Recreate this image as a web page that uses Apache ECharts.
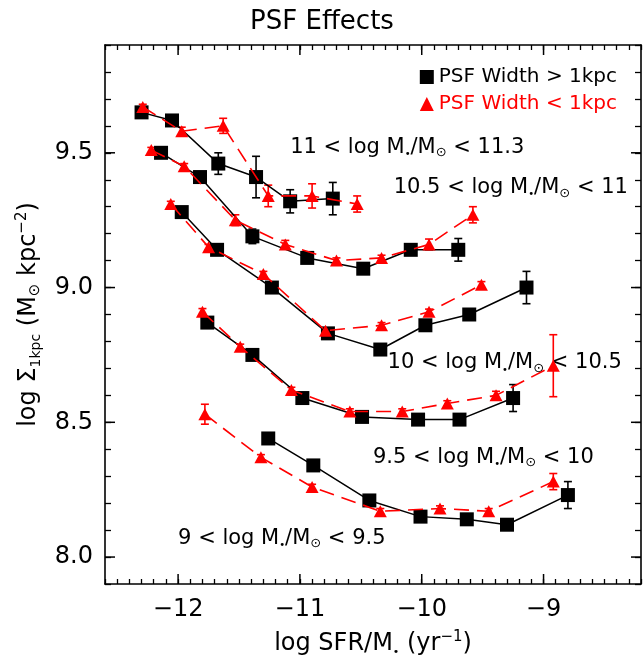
<!DOCTYPE html>
<html>
<head>
<meta charset="utf-8">
<script src="https://cdn.jsdelivr.net/npm/echarts@6/dist/echarts.min.js"></script>
<style>
  html, body { margin: 0; padding: 0; background: #fff; }
  #chart { width: 644px; height: 663px; }
</style>
</head>
<body>
<div id="chart"></div>
<script>
// Central stellar surface density vs specific SFR, split by stellar-mass bin.
// "wide" = PSF width > 1 kpc, "narrow" = PSF width < 1 kpc; err = symmetric 1-sigma.

// 11 < log M*/Msun < 11.3
const m11_wide_x   = [-12.30, -12.05, -11.67, -11.36, -11.08, -10.73];
const m11_wide_y   = [9.65, 9.62, 9.46, 9.41, 9.32, 9.33];
const m11_wide_err = [0.01, 0.01, 0.04, 0.077, 0.043, 0.06];
const m11_narrow_x   = [-12.29, -11.97, -11.63, -11.26, -10.90, -10.53];
const m11_narrow_y   = [9.67, 9.58, 9.60, 9.34, 9.34, 9.31];
const m11_narrow_err = [0.01, 0.015, 0.028, 0.04, 0.045, 0.03];

// 10.5 < log M*/Msun < 11
const m105_wide_x   = [-12.14, -11.82, -11.39, -10.94, -10.48, -10.09, -9.70];
const m105_wide_y   = [9.50, 9.41, 9.19, 9.11, 9.07, 9.14, 9.14];
const m105_wide_err = [0.01, 0.01, 0.027, 0.01, 0.01, 0.01, 0.042];
const m105_narrow_x   = [-12.22, -11.95, -11.53, -11.12, -10.70, -10.33, -9.94, -9.58];
const m105_narrow_y   = [9.51, 9.45, 9.25, 9.16, 9.10, 9.11, 9.16, 9.27];
const m105_narrow_err = [0.01, 0.01, 0.02, 0.015, 0.01, 0.01, 0.02, 0.03];

// 10 < log M*/Msun < 10.5
const m10_wide_x   = [-11.97, -11.68, -11.23, -10.77, -10.34, -9.97, -9.61, -9.14];
const m10_wide_y   = [9.28, 9.14, 9.00, 8.83, 8.77, 8.86, 8.90, 9.00];
const m10_wide_err = [0.01, 0.01, 0.01, 0.01, 0.01, 0.01, 0.015, 0.06];
const m10_narrow_x   = [-12.06, -11.75, -11.30, -10.79, -10.33, -9.94, -9.51];
const m10_narrow_y   = [9.31, 9.15, 9.05, 8.84, 8.86, 8.91, 9.01];
const m10_narrow_err = [0.01, 0.01, 0.01, 0.01, 0.01, 0.01, 0.012];

// 9.5 < log M*/Msun < 10
const m95_wide_x   = [-11.76, -11.39, -10.98, -10.49, -10.03, -9.69, -9.25];
const m95_wide_y   = [8.87, 8.75, 8.59, 8.52, 8.51, 8.51, 8.59];
const m95_wide_err = [0.01, 0.01, 0.01, 0.01, 0.01, 0.01, 0.05];
const m95_narrow_x   = [-11.80, -11.49, -11.07, -10.59, -10.16, -9.79, -9.39, -8.92];
const m95_narrow_y   = [8.91, 8.78, 8.62, 8.54, 8.54, 8.57, 8.60, 8.71];
const m95_narrow_err = [0.012, 0.01, 0.01, 0.01, 0.01, 0.01, 0.015, 0.115];

// 9 < log M*/Msun < 9.5
const m9_wide_x   = [-11.26, -10.89, -10.43, -10.01, -9.63, -9.30, -8.80];
const m9_wide_y   = [8.44, 8.34, 8.21, 8.15, 8.14, 8.12, 8.23];
const m9_wide_err = [0.01, 0.01, 0.01, 0.01, 0.01, 0.01, 0.05];
const m9_narrow_x   = [-11.78, -11.32, -10.90, -10.34, -9.85, -9.45, -8.92];
const m9_narrow_y   = [8.53, 8.37, 8.26, 8.17, 8.18, 8.17, 8.28];
const m9_narrow_err = [0.037, 0.01, 0.01, 0.01, 0.01, 0.01, 0.03];

// Bin labels and where they sit (data coordinates of their left edge)
const binLabels = [
  '{t|11 < log M}{s|•}{t|/M}{o|⊙}{t| < 11.3}',
  '{t|10.5 < log M}{s|•}{t|/M}{o|⊙}{t| < 11}',
  '{t|10 < log M}{s|•}{t|/M}{o|⊙}{t| < 10.5}',
  '{t|9.5 < log M}{s|•}{t|/M}{o|⊙}{t| < 10}',
  '{t|9 < log M}{s|•}{t|/M}{o|⊙}{t| < 9.5}'
];
const binLabelX = [-11.08, -10.23, -10.28, -10.40, -12.00];
const binLabelY = [9.52, 9.37, 8.72, 8.37, 8.07];

// Axis ranges and major tick values
const xRange = [-12.6, -8.2];
const yRange = [7.9, 9.9];
const xMajor = [-12, -11, -10, -9];
const yMajor = [8.0, 8.5, 9.0, 9.5];

const WIDE = 'PSF Width > 1kpc';
const NARROW = 'PSF Width < 1kpc';
const FONT = 'DejaVu Sans';
const RED = '#ff0000';

const series = [];

function errorBars(xs, ys, errs, color) {
  return {
    type: 'custom',
    silent: true,
    z: 3,
    encode: { x: 0, y: [1, 2] },
    data: xs.map((x, i) => [x, ys[i] - errs[i], ys[i] + errs[i]]),
    renderItem(params, api) {
      const lo = api.coord([api.value(0), api.value(1)]);
      const hi = api.coord([api.value(0), api.value(2)]);
      const c = 4;
      const st = { stroke: color, lineWidth: 1.6 };
      return {
        type: 'group',
        children: [
          { type: 'line', shape: { x1: lo[0], y1: lo[1], x2: hi[0], y2: hi[1] }, style: st },
          { type: 'line', shape: { x1: lo[0] - c, y1: lo[1], x2: lo[0] + c, y2: lo[1] }, style: st },
          { type: 'line', shape: { x1: hi[0] - c, y1: hi[1], x2: hi[0] + c, y2: hi[1] }, style: st }
        ]
      };
    }
  };
}

function addWide(xs, ys, errs) {
  series.push({
    name: WIDE, type: 'line', z: 4,
    data: xs.map((x, i) => [x, ys[i]]),
    symbol: 'rect', symbolSize: 14,
    itemStyle: { color: '#000' },
    lineStyle: { color: '#000', width: 1.5 }
  });
  series.push(errorBars(xs, ys, errs, '#000'));
}

function addNarrow(xs, ys, errs) {
  series.push({
    name: NARROW, type: 'line', z: 5,
    data: xs.map((x, i) => [x, ys[i]]),
    symbol: 'triangle', symbolSize: [13, 12],
    itemStyle: { color: RED },
    lineStyle: { color: RED, width: 1.6, type: [15, 8] }
  });
  series.push(errorBars(xs, ys, errs, RED));
}

addWide(m11_wide_x, m11_wide_y, m11_wide_err);
addNarrow(m11_narrow_x, m11_narrow_y, m11_narrow_err);
addWide(m105_wide_x, m105_wide_y, m105_wide_err);
addNarrow(m105_narrow_x, m105_narrow_y, m105_narrow_err);
addWide(m10_wide_x, m10_wide_y, m10_wide_err);
addNarrow(m10_narrow_x, m10_narrow_y, m10_narrow_err);
addWide(m95_wide_x, m95_wide_y, m95_wide_err);
addNarrow(m95_narrow_x, m95_narrow_y, m95_narrow_err);
addWide(m9_wide_x, m9_wide_y, m9_wide_err);
addNarrow(m9_narrow_x, m9_narrow_y, m9_narrow_err);

// Mass-bin labels
const labelRich = {
  t: { fontSize: 21, fontFamily: FONT, color: '#000', lineHeight: 24 },
  s: { fontSize: 10, fontFamily: FONT, color: '#000', verticalAlign: 'bottom', lineHeight: 12 },
  o: { fontSize: 13, fontFamily: FONT, color: '#000', verticalAlign: 'bottom', lineHeight: 13 }
};
series.push({
  type: 'scatter', silent: true, symbolSize: 0, z: 2,
  itemStyle: { color: '#000', opacity: 1 },
  data: binLabels.map((t, i) => [binLabelX[i], binLabelY[i], t]),
  label: {
    show: true, position: 'right', distance: 0,
    formatter: p => p.data[2],
    fontSize: 21, fontFamily: FONT, color: '#000', opacity: 1, lineHeight: 24,
    textBorderWidth: 0,
    rich: labelRich
  }
});

// Longer major ticks on all four sides of the frame
series.push({
  type: 'custom', silent: true, z: 6,
  data: xMajor.map(v => [v, yRange[0]]),
  encode: { x: 0, y: 1 },
  renderItem(params, api) {
    const p = api.coord([api.value(0), api.value(1)]);
    const cs = params.coordSys;
    const st = { stroke: '#000', lineWidth: 1.5 };
    return { type: 'group', children: [
      { type: 'line', shape: { x1: p[0], y1: cs.y + cs.height, x2: p[0], y2: cs.y + cs.height - 10 }, style: st },
      { type: 'line', shape: { x1: p[0], y1: cs.y, x2: p[0], y2: cs.y + 10 }, style: st }
    ]};
  }
});
series.push({
  type: 'custom', silent: true, z: 6,
  data: yMajor.map(v => [xRange[0], v]),
  encode: { x: 0, y: 1 },
  renderItem(params, api) {
    const p = api.coord([api.value(0), api.value(1)]);
    const cs = params.coordSys;
    const st = { stroke: '#000', lineWidth: 1.5 };
    return { type: 'group', children: [
      { type: 'line', shape: { x1: cs.x, y1: p[1], x2: cs.x + 10, y2: p[1] }, style: st },
      { type: 'line', shape: { x1: cs.x + cs.width, y1: p[1], x2: cs.x + cs.width - 10, y2: p[1] }, style: st }
    ]};
  }
});

const axisLine = { show: true, onZero: false, lineStyle: { color: '#000', width: 1.6 } };
const minorTick = { show: true, inside: true, length: 5, lineStyle: { color: '#000', width: 1.3 } };

function xLabel(v) {
  const r = Math.round(v);
  if (Math.abs(v - r) > 1e-6) return '';
  return (r < 0 ? '\u2212' : '') + Math.abs(r);
}
function yLabel(v) {
  if (Math.abs(v * 2 - Math.round(v * 2)) > 1e-6) return '';
  return v.toFixed(1);
}

const chart = echarts.init(document.getElementById('chart'), null, { renderer: 'canvas' });
chart.setOption({
  animation: false,
  backgroundColor: '#fff',
  title: {
    text: 'PSF Effects', left: 'center', top: 4,
    textStyle: { fontFamily: FONT, fontSize: 26, fontWeight: 'normal', color: '#000' }
  },
  legend: {
    orient: 'vertical', right: 22, top: 62,
    itemWidth: 14, itemHeight: 14, itemGap: 7,
    selectedMode: false,
    textStyle: { fontFamily: FONT, fontSize: 20, lineHeight: 20 },
    data: [
      { name: WIDE, icon: 'rect', textStyle: { color: '#000' } },
      { name: NARROW, icon: 'triangle', textStyle: { color: RED } }
    ]
  },
  grid: { left: 105, right: 1, top: 45, bottom: 79, containLabel: false },
  xAxis: [
    {
      type: 'value', position: 'bottom', min: xRange[0], max: xRange[1], interval: 0.1,
      axisLine, axisTick: minorTick, splitLine: { show: false },
      axisLabel: { formatter: xLabel, hideOverlap: false, fontFamily: FONT, fontSize: 24, color: '#000', margin: 14 },
      name: 'log SFR/M{s|•} (yr{p|\u22121})', nameLocation: 'middle', nameGap: 46,
      nameTextStyle: {
        fontFamily: FONT, fontSize: 24, color: '#000', lineHeight: 28,
        rich: {
          s: { fontSize: 11, fontFamily: FONT, color: '#000', verticalAlign: 'bottom', lineHeight: 16 },
          p: { fontSize: 15, fontFamily: FONT, color: '#000', verticalAlign: 'top', lineHeight: 15 }
        }
      }
    },
    {
      type: 'value', position: 'top', min: xRange[0], max: xRange[1], interval: 0.1,
      axisLine, axisTick: minorTick, splitLine: { show: false }, axisLabel: { show: false }
    }
  ],
  yAxis: [
    {
      type: 'value', position: 'left', min: yRange[0], max: yRange[1], interval: 0.1,
      axisLine, axisTick: { ...minorTick, length: 6 }, splitLine: { show: false },
      axisLabel: { formatter: yLabel, hideOverlap: false, fontFamily: FONT, fontSize: 24, color: '#000', margin: 12 },
      name: 'log \u03A3{b|1kpc} (M{o|⊙} kpc{p|\u22122})', nameLocation: 'middle', nameGap: 62, nameRotate: 90,
      nameTextStyle: {
        fontFamily: FONT, fontSize: 24, color: '#000', lineHeight: 28,
        rich: {
          b: { fontSize: 14, fontFamily: FONT, color: '#000', verticalAlign: 'bottom', lineHeight: 16 },
          o: { fontSize: 15, fontFamily: FONT, color: '#000', verticalAlign: 'bottom', lineHeight: 16 },
          p: { fontSize: 15, fontFamily: FONT, color: '#000', verticalAlign: 'top', lineHeight: 15 }
        }
      }
    },
    {
      type: 'value', position: 'right', min: yRange[0], max: yRange[1], interval: 0.1,
      axisLine, axisTick: { ...minorTick, length: 6 }, splitLine: { show: false }, axisLabel: { show: false }
    }
  ],
  series
});
</script>
</body>
</html>
